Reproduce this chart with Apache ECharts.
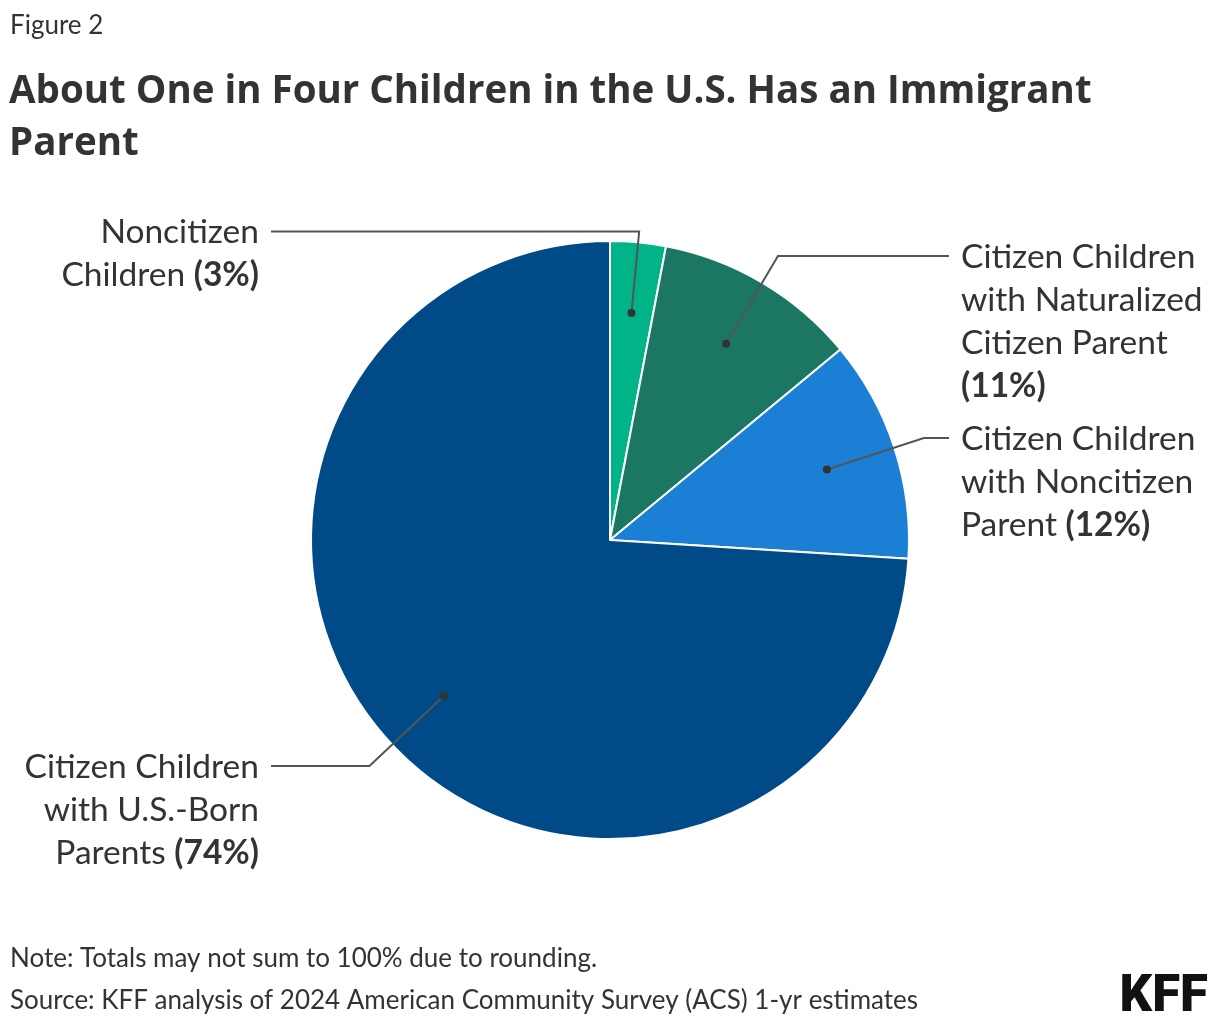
<!DOCTYPE html>
<html><head><meta charset="utf-8">
<script src="https://cdn.jsdelivr.net/npm/echarts@6/dist/echarts.min.js"></script>
<style>html,body{margin:0;padding:0;background:#fff}#c{width:1220px;height:1028px}</style>
</head><body><div id="c"></div>
<script>
// ---- data ----
const categories = [
  'Noncitizen Children',
  'Citizen Children with Naturalized Citizen Parent',
  'Citizen Children with Noncitizen Parent',
  'Citizen Children with U.S.-Born Parents'
];
const labelNameLines = [
  ['Noncitizen', 'Children'],
  ['Citizen Children', 'with Naturalized', 'Citizen Parent'],
  ['Citizen Children', 'with Noncitizen', 'Parent'],
  ['Citizen Children', 'with U.S.-Born', 'Parents']
];
const values = [3, 11, 12, 74];
const pctOwnLine = [false, true, false, false];
const colors = ['#00b487', '#1b7762', '#1b80d5', '#004a87'];

// ---- layout config ----
const FONT = 'Lato';
const TITLE_FONT = 'Open Sans';
const CX = 610, CY = 540, R = 299, DOT_R = 225;
const labelSide = ['left', 'right', 'right', 'left'];
const elbowR = [310, 330, 330, 330];
const LINE_REACH = 339, TEXT_GAP = 12, LINE_H = 43;

const chart = echarts.init(document.getElementById('c'), null, {renderer: 'canvas'});

const mainData = values.map((v, i) => ({value: v, name: categories[i], itemStyle: {color: colors[i]}}));
const ghostData = values.map((v, i) => ({value: v, name: categories[i]}));

function fmt(params) {
  const i = params.dataIndex;
  const lines = labelNameLines[i].map(s => '{t|' + s + '}');
  const pct = '{p|(' + values[i] + '%)}';
  if (pctOwnLine[i]) lines.push(pct);
  else lines[lines.length - 1] = lines[lines.length - 1] + '{t| }' + pct;
  return lines.join('\n');
}

const option = {
  backgroundColor: '#fff',
  animation: false,
  title: [
    {text: 'Figure 2', left: 10, top: 13, padding: 0,
     textStyle: {fontFamily: FONT, fontSize: 26, fontWeight: 400, color: '#333'}},
    {text: 'About One in Four Children in the U.S. Has an Immigrant\nParent', left: 9, top: 66, padding: 0,
     textStyle: {fontFamily: TITLE_FONT, fontSize: 38.5, fontWeight: 700, lineHeight: 52, color: '#333'}},
    {text: 'Note: Totals may not sum to 100% due to rounding.\nSource: KFF analysis of 2024 American Community Survey (ACS) 1-yr estimates',
     left: 10, top: 938, padding: 0,
     textStyle: {fontFamily: FONT, fontSize: 26, fontWeight: 400, lineHeight: 42, color: '#333'}},
    {text: 'KFF', right: 12, top: 973, padding: 0,
     textStyle: {fontFamily: 'Roboto', fontSize: 51, fontWeight: 900, color: '#111'}}
  ],
  series: [
    {
      type: 'pie', center: [CX, CY], radius: R, startAngle: 90, clockwise: true,
      silent: true, label: {show: false}, labelLine: {show: false},
      itemStyle: {borderColor: '#fff', borderWidth: 2},
      data: mainData, z: 1
    },
    {
      type: 'pie', center: [CX, CY], radius: DOT_R, startAngle: 90, clockwise: true,
      silent: true, z: 3,
      itemStyle: {color: 'rgba(0,0,0,0)'},
      label: {
        show: true, position: 'outside', formatter: fmt,
        rich: {
          t: {fontFamily: FONT, fontSize: 33.5, fontWeight: 400, color: '#333', lineHeight: LINE_H},
          p: {fontFamily: FONT, fontSize: 33.5, fontWeight: 700, color: '#333', lineHeight: LINE_H}
        }
      },
      labelLine: {show: true, length: 20, length2: 20, smooth: false,
                  lineStyle: {color: '#555', width: 2}},
      labelLayout: function (params) {
        const i = params.dataIndex;
        const p0 = params.labelLinePoints[0];
        const dx = p0[0] - CX, dy = p0[1] - CY;
        const len = Math.sqrt(dx * dx + dy * dy);
        const ex = CX + dx / len * elbowR[i];
        const ey = CY + dy / len * elbowR[i];
        const right = labelSide[i] === 'right';
        const endX = right ? CX + LINE_REACH : CX - LINE_REACH;
        return {
          x: right ? endX + TEXT_GAP : endX - TEXT_GAP,
          y: ey - LINE_H / 2 + 1,
          align: right ? 'left' : 'right',
          verticalAlign: 'top',
          labelLinePoints: [[p0[0], p0[1]], [ex, ey], [endX, ey]]
        };
      },
      data: ghostData
    },
    {
      type: 'pie', center: [CX, CY], radius: [DOT_R - 1, DOT_R + 1], startAngle: 90, clockwise: true,
      silent: true, z: 4,
      itemStyle: {color: 'rgba(0,0,0,0)'},
      label: {
        show: true, position: 'inside', formatter: '{d|}',
        rich: {d: {width: 8, height: 8, borderRadius: 4, backgroundColor: '#333'}}
      },
      labelLine: {show: false},
      data: ghostData
    }
  ]
};
chart.setOption(option);
</script>
</body></html>
